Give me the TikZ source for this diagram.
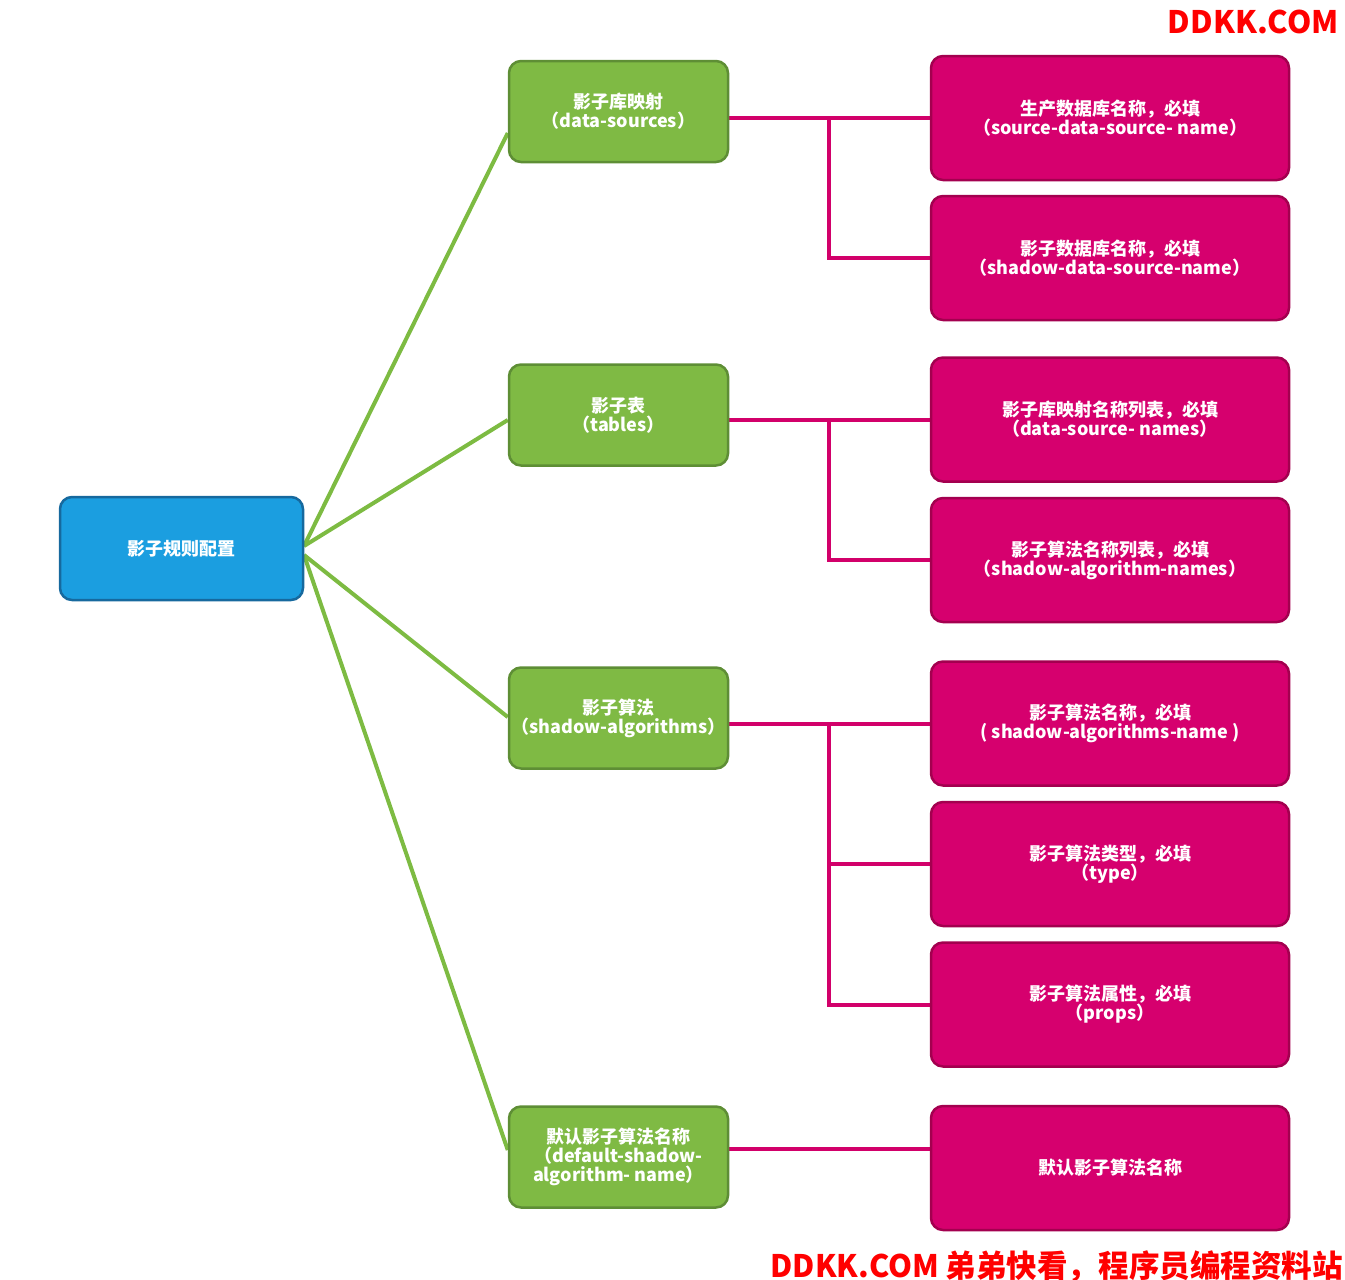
\documentclass[tikz,border=0pt]{standalone}
\usepackage{fontspec}
\setmainfont{Noto Sans CJK SC}
\usetikzlibrary{backgrounds}
\definecolor{cGreenFill}{HTML}{7FBA44}
\definecolor{cGreenDraw}{HTML}{5E8E35}
\definecolor{cBlueFill}{HTML}{1B9EE0}
\definecolor{cBlueDraw}{HTML}{16699E}
\definecolor{cPinkFill}{HTML}{D6006E}
\definecolor{cPinkDraw}{HTML}{A3004F}
\definecolor{cGreenLine}{HTML}{7DBB42}
\definecolor{cPinkLine}{HTML}{D2006A}
\definecolor{cMark}{HTML}{FF0000}
\begin{document}
\begin{tikzpicture}[x=1pt,y=-1pt,
  box/.style={rectangle, rounded corners=12pt, line width=2.5pt, align=center,
    text=white, font=\fontsize{18}{19}\selectfont\bfseries, inner sep=0pt},
  rootbox/.style={box, fill=cBlueFill, draw=cBlueDraw, minimum width=243pt, minimum height=103pt},
  catbox/.style={box, fill=cGreenFill, draw=cGreenDraw, minimum width=219pt, minimum height=101pt},
  leafbox/.style={box, fill=cPinkFill, draw=cPinkDraw, minimum width=358pt, minimum height=124pt},
  gline/.style={draw=cGreenLine, line width=4pt},
  pline/.style={draw=cPinkLine, line width=4pt},
  wmark/.style={text=cMark, font=\fontsize{31}{31}\selectfont\bfseries, inner sep=0pt}]
\useasboundingbox (0,0) rectangle (1345,1280);

\node[rootbox] (root) at (181.5,548.5) {影子规则配置};

\node[catbox] (g1) at (618.5,111.5) {影子库映射\\（data-sources）};
\node[catbox] (g2) at (618.5,415) {影子表\\（tables）};
\node[catbox] (g3) at (618.5,718) {影子算法\\（shadow-algorithms）};
\node[catbox] (g4) at (618.5,1157) {默认影子算法名称\\（default-shadow-\\algorithm- name）};

\node[leafbox] (p1) at (1110,118) {生产数据库名称，必填\\（source-data-source- name）};
\node[leafbox] (p2) at (1110,258) {影子数据库名称，必填\\（shadow-data-source-name）};
\node[leafbox] (p3) at (1110,419.5) {影子库映射名称列表，必填\\（data-source- names）};
\node[leafbox] (p4) at (1110,560) {影子算法名称列表，必填\\（shadow-algorithm-names）};
\node[leafbox] (p5) at (1110,723.5) {影子算法名称，必填\\( shadow-algorithms-name )};
\node[leafbox] (p6) at (1110,864) {影子算法类型，必填\\（type）};
\node[leafbox] (p7) at (1110,1004.5) {影子算法属性，必填\\（props）};
\node[leafbox] (p8) at (1110,1168) {默认影子算法名称};

\node[wmark, anchor=base east] (wm1) at (1339,33) {DDKK.COM};
\node[wmark, anchor=base east] (wm2) at (1343,1277) {\scalebox{0.985}[1]{DDKK.COM 弟弟快看，程序员编程资料站}};

\coordinate (rU) at (304,546);
\coordinate (rD) at (304,555);
\coordinate (j) at (829,0);

\begin{scope}[on background layer]
\draw[gline] (rU) -- (g1.west |- 0,133);
\draw[gline] (rU) -- (g2.west |- 0,420);
\draw[gline] (rD) -- (g3.west |- 0,717);
\draw[gline] (rD) -- (g4.west |- 0,1150);

\draw[pline] (g1.east |- p1.west) -- (p1.west);
\draw[pline] (j |- p1.west) |- (p2.west);
\draw[pline] (g2.east |- p3.west) -- (p3.west);
\draw[pline] (j |- p3.west) |- (p4.west);
\draw[pline] (g3.east |- p5.west) -- (p5.west);
\draw[pline] (j |- p5.west) |- (p7.west);
\draw[pline] (j |- p6.west) -- (p6.west);
\draw[pline] (g4.east |- 0,1149) -- (p8.west |- 0,1149);
\end{scope}
\end{tikzpicture}
\end{document}
